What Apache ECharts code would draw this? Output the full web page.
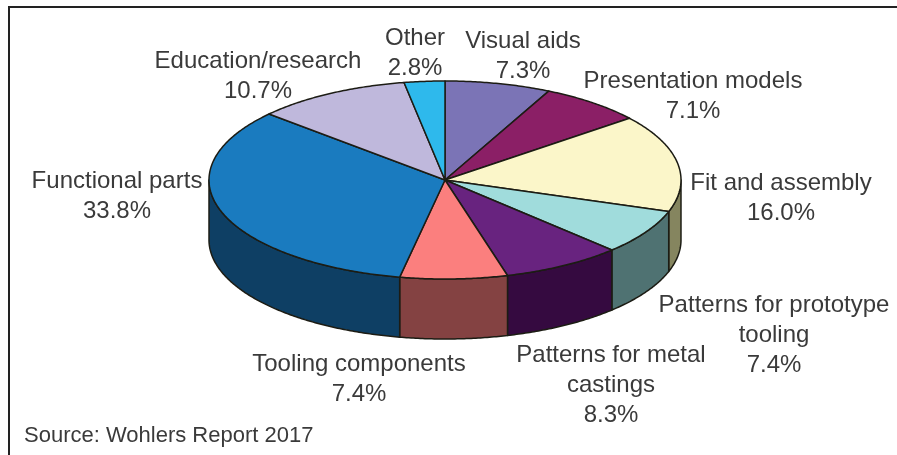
<!DOCTYPE html>
<html>
<head>
<meta charset="utf-8">
<style>html,body{margin:0;padding:0;background:#fff}#chart{width:897px;height:455px}</style>
<script src="https://cdn.jsdelivr.net/npm/echarts@6/dist/echarts.min.js"></script>
</head>
<body>
<div id="chart"></div>
<script>
// Applications of additive manufacturing, share of revenue in percent.
const categories = ['Visual aids', 'Presentation models', 'Fit and assembly', 'Patterns for prototype\ntooling',
  'Patterns for metal\ncastings', 'Tooling components', 'Functional parts', 'Education/research', 'Other'];
const shares = [7.3, 7.1, 16.0, 7.4, 8.3, 7.4, 33.8, 10.7, 2.8];
const sourceNote = 'Source: Wohlers Report 2017';

const topColors = ['#7b74b6', '#8b1f66', '#fbf6c9', '#a0dcdc', '#68237f', '#fb7f7e', '#1a7bbf', '#bfb8dc', '#2eb9ec'];
const wallColors = ['#4e4a74', '#581441', '#85855f', '#4f7272', '#350a40', '#844242', '#0e3f64', '#7a7590', '#1d7698'];

// Disc geometry in pixels: ellipse centre, radii and wall height.
const disc = { cx: 445, cy: 180, rx: 236, ry: 99, depth: 60 };
const outline = '#1c1c14';

// Centre anchor of each slice label, in the same order as the categories.
const labelAnchors = [[523, 56], [693, 96], [781, 198], [774, 335], [611, 385], [359, 379], [117, 196], [258, 76], [415, 53]];

const total = shares.reduce((a, b) => a + b, 0);
const startAngles = [];
shares.reduce((sum, v, i) => { startAngles[i] = sum / total * Math.PI * 2; return sum + v; }, 0);

// Angles run clockwise from the top of the disc.
function rimPoint(angle, drop) {
  return [disc.cx + disc.rx * Math.sin(angle), disc.cy - disc.ry * Math.cos(angle) + (drop || 0)];
}
function arcPoints(from, to, drop) {
  const steps = Math.max(2, Math.ceil((to - from) / 0.01));
  const pts = [];
  for (let k = 0; k <= steps; k++) pts.push(rimPoint(from + (to - from) * k / steps, drop));
  return pts;
}
function sliceSpan(i) {
  return [startAngles[i], startAngles[i] + shares[i] / total * Math.PI * 2];
}

function renderWall(params) {
  const i = params.dataIndex;
  const [a, b] = sliceSpan(i);
  // Only the front half of the rim faces the viewer.
  const from = Math.max(a, Math.PI / 2), to = Math.min(b, Math.PI * 3 / 2);
  if (to <= from) return null;
  const points = arcPoints(from, to, 0).concat(arcPoints(from, to, disc.depth).reverse());
  return {
    type: 'polygon',
    shape: { points },
    style: { fill: wallColors[i], stroke: outline, lineWidth: 1.5, lineJoin: 'round' }
  };
}

function renderTop(params) {
  const i = params.dataIndex;
  const [a, b] = sliceSpan(i);
  const points = [[disc.cx, disc.cy]].concat(arcPoints(a, b, 0));
  return {
    type: 'polygon',
    shape: { points },
    style: { fill: topColors[i], stroke: outline, lineWidth: 1.5, lineJoin: 'round' }
  };
}

const textStyle = { fontFamily: '"Liberation Sans", Arial, sans-serif', fontSize: 24, lineHeight: 30, fill: '#3a3a3a', align: 'center', verticalAlign: 'middle' };

const chart = echarts.init(document.getElementById('chart'), null, { renderer: 'canvas' });
chart.setOption({
  animation: false,
  backgroundColor: '#ffffff',
  series: [
    { type: 'custom', coordinateSystem: 'none', silent: true, z: 1, data: shares, renderItem: renderWall },
    { type: 'custom', coordinateSystem: 'none', silent: true, z: 2, data: shares, renderItem: renderTop }
  ],
  graphic: [
    { type: 'polyline', silent: true, z: 5, shape: { points: [[9, 455], [9, 7], [897, 7]] }, style: { fill: 'none', stroke: '#222', lineWidth: 2 } }
  ].concat(categories.map((name, i) => ({
    type: 'text', silent: true, z: 6,
    x: labelAnchors[i][0], y: labelAnchors[i][1],
    style: Object.assign({ text: name + '\n' + shares[i].toFixed(1) + '%' }, textStyle)
  }))).concat([
    { type: 'text', silent: true, z: 6, x: 24, y: 436,
      style: Object.assign({}, textStyle, { text: sourceNote, align: 'left', fontSize: 22 }) }
  ])
});
</script>
</body>
</html>
